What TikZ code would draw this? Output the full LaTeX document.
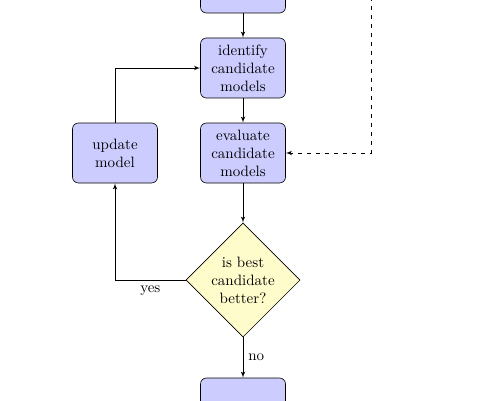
\documentclass[tikz,border=0pt]{standalone}
\usetikzlibrary{shapes.geometric,arrows}
\begin{document}
\begin{tikzpicture}[x=0.66667pt,y=-0.66667pt,
  blockbox/.style={rectangle, draw, fill=blue!20, text width=5em, align=center, rounded corners, minimum height=4em},
  decisionbox/.style={diamond, draw, fill=yellow!20, text width=4.5em, align=center, inner sep=0pt},
  conn/.style={draw, -latex'}]
\useasboundingbox (0,0) rectangle (501,400);
\node[blockbox] (init) at (243,-17) {};
\node[blockbox] (identify) at (243,68) {identify candidate models};
\node[blockbox] (evaluate) at (243,153) {evaluate candidate models};
\node[blockbox] (update) at (115,153) {update model};
\node[decisionbox] (decide) at (243,280) {is best candidate better?};
\node[blockbox] (stop) at (243,408) {};
\coordinate (system) at (371,-30);
\path[conn] (init) -- (identify);
\path[conn] (identify) -- (evaluate);
\path[conn] (evaluate) -- (decide);
\path[conn] (decide) -| node[pos=0.25, below] {yes} (update);
\path[conn] (update) |- (identify);
\path[conn] (decide) -- node[right] {no} (stop);
\path[conn, dashed] (system) |- (evaluate);
\end{tikzpicture}
\end{document}
